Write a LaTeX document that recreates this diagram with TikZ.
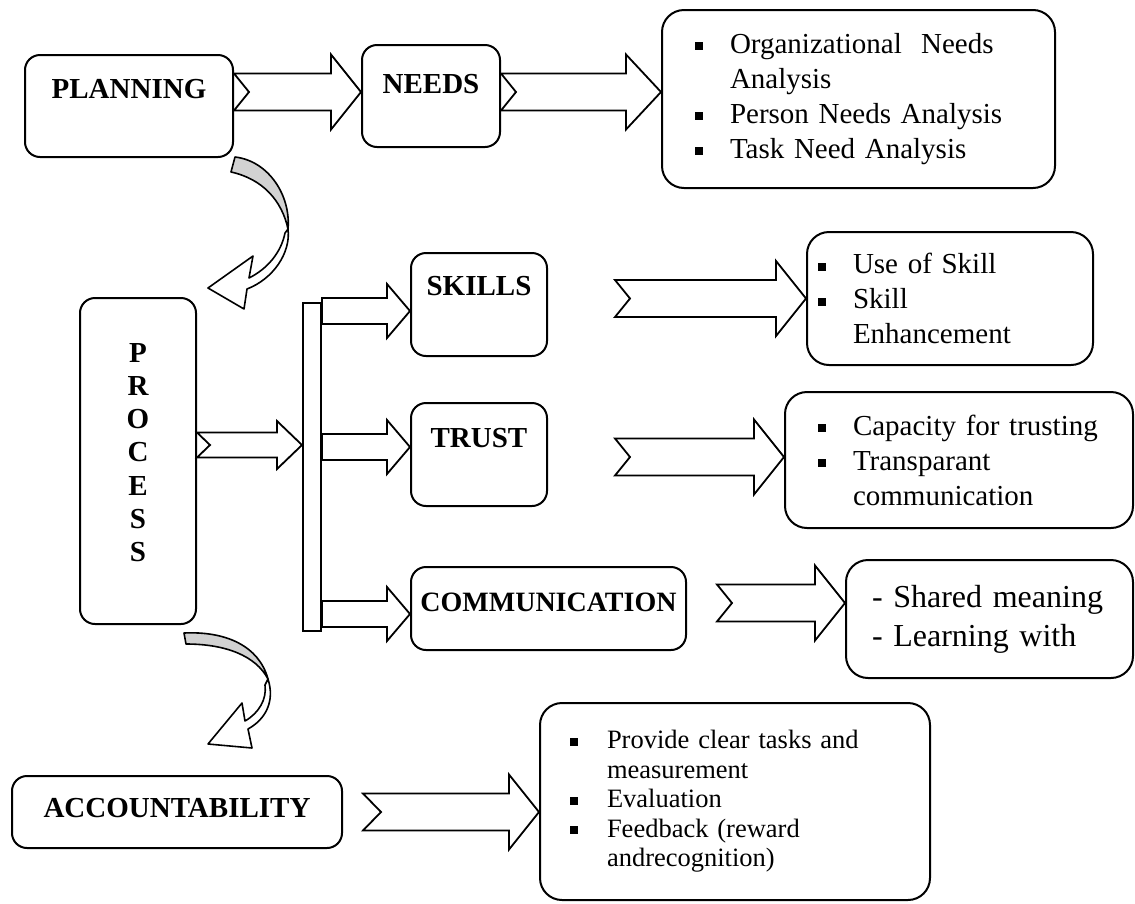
\documentclass[tikz,border=0pt]{standalone}
\usepackage{fontspec}
\setmainfont{Liberation Serif}
\usetikzlibrary{calc}
\tikzset{
  box/.style={draw, rounded corners=15pt, line width=2pt, fill=white,
              inner sep=0pt, align=center},
  title/.style={box, font=\fontsize{29}{35}\selectfont\bfseries},
  list/.style={box, rounded corners=22pt, align=left,
               font=\fontsize{29}{35}\selectfont},
  bar/.style={draw, line width=2pt, fill=white, inner sep=0pt},
  barrow/.style={draw, line width=1.8pt, fill=white, line join=miter},
  shaft w/.store in=\bashaft, head w/.store in=\bahead,
  head len/.store in=\bahlen, notch len/.store in=\banotch,
  big arrow/.style={shaft w=18.5pt, head w=37.5pt, head len=30pt, notch len=15pt},
  small arrow/.style={shaft w=13pt, head w=27pt, head len=23pt, notch len=0pt},
  curved/.style={draw, line width=1.6pt, line join=round},
}
% square bullet followed by the gap to the item text
\newcommand{\sqb}[1][35pt]{\makebox[#1][l]{\rule[3pt]{8pt}{8pt}}}
% notched block arrow, horizontal, from the x of #2 to the point #3
\newcommand{\blockarrow}[3][]{%
  \draw[barrow,#1] let \p1=(#2), \p2=(#3) in
    (\x1,\y2+\bashaft) -- (\x2-\bahlen,\y2+\bashaft) -- (\x2-\bahlen,\y2+\bahead)
    -- (\x2,\y2) -- (\x2-\bahlen,\y2-\bahead) -- (\x2-\bahlen,\y2-\bashaft)
    -- (\x1,\y2-\bashaft) -- (\x1+\banotch,\y2) -- cycle;
}

\begin{document}
\begin{tikzpicture}[x=1pt, y=-1pt]
  \useasboundingbox (0,0) rectangle (1135,903);

  % left column
  \node[title, minimum width=208pt, text height=43pt, text depth=59pt] (plan) at (129,106) {PLANNING};
  \node[title, minimum width=116pt, text height=64pt, text depth=262pt,
        font=\fontsize{29}{33.3}\selectfont\bfseries] (process) at (138,461)
        {\parbox[t]{40pt}{\centering P\\R\\O\\C\\E\\S\\S}};
  \node[title, minimum width=330pt, text height=41pt, text depth=31pt] (acc) at (177,812) {ACCOUNTABILITY};

  % middle column
  \node[title, minimum width=138pt, text height=48pt, text depth=54pt] (needs) at (431,96) {NEEDS};
  \node[title, minimum width=136pt, text height=42pt, text depth=61pt] (skills) at (479,304.5) {SKILLS};
  \node[title, minimum width=136pt, text height=44pt, text depth=59pt] (trust) at (479,454.5) {TRUST};
  \node[title, minimum width=275pt, text height=44pt, text depth=39pt,
        font=\fontsize{28}{34}\selectfont\bfseries] (comm) at (548.5,608.5) {COMMUNICATION};
  \node[bar, minimum width=18pt, minimum height=328pt] (bar) at (312,467) {};

  % right column
  \node[list, minimum width=393pt, minimum height=178pt, inner xsep=33pt, text width=327pt] (needlist) at (858.5,99)
    {\sqb Organizational\ \ Needs\\
     \hspace*{35pt}Analysis\\
     \sqb Person Needs Analysis\\
     \sqb Task Need Analysis};
  \node[list, minimum width=286pt, minimum height=133pt, inner xsep=11pt, text width=264pt] (skilllist) at (950,298.5)
    {\sqb Use of Skill\\
     \sqb Skill\\
     \hspace*{35pt}Enhancement};
  \node[list, minimum width=348pt, minimum height=136pt, inner xsep=33pt, text width=282pt] (trustlist) at (959,460)
    {\sqb Capacity for trusting\\
     \sqb Transparant\\
     \hspace*{35pt}communication};
  \node[list, minimum width=287pt, minimum height=118pt, inner xsep=26pt, text width=235pt,
        font=\fontsize{32}{39}\selectfont] (commlist) at (989.5,619)
    {- Shared meaning\\
     - Learning with};
  \node[list, minimum width=390pt, minimum height=197pt, inner xsep=30pt, text width=330pt,
        font=\fontsize{26.5}{29.5}\selectfont] (acclist) at (735,801.5)
    {\sqb[37pt]Provide clear tasks and\\
     \hspace*{37pt}measurement\\
     \sqb[37pt]Evaluation\\
     \sqb[37pt]Feedback (reward\\
     \hspace*{37pt}andrecognition)};

  % block arrows
  \blockarrow[big arrow]{plan.east}{[yshift=4pt]needs.west}
  \blockarrow[big arrow, head len=35pt]{needs.east}{[yshift=7pt]needlist.west}
  \blockarrow[small arrow, shaft w=12.5pt, head w=24pt, head len=25pt, notch len=13pt]{process.east}{[yshift=22pt]bar.west}
  \blockarrow[small arrow]{bar.east}{[yshift=-6.5pt]skills.west}
  \blockarrow[small arrow]{bar.east}{[yshift=7.5pt]trust.west}
  \blockarrow[small arrow]{bar.east}{[yshift=-5.5pt]comm.west}
  \blockarrow[big arrow]{[xshift=67pt]skills.east}{skilllist.west}
  \blockarrow[big arrow]{[xshift=67pt]trust.east}{[yshift=3pt]trustlist.west}
  \blockarrow[big arrow]{[xshift=30pt]comm.east}{[yshift=16pt]commlist.west}
  \blockarrow[big arrow, notch len=18pt]{[xshift=20pt]acc.east}{[yshift=-10.5pt]acclist.west}

  % curved arrows between the stages
  \begin{scope}[shift={(plan.south east)}]
    \path[curved, fill=gray!35] (1,-1) .. controls (35,3) and (57,38) .. (54,71)
      .. controls (48,43) and (29,21) .. (-3,14) -- cycle;
    \path[curved, fill=white] (54,71) .. controls (57,95) and (39,121) .. (13,131)
      -- (10,151) -- (-26,130) -- (19,98) -- (15,120)
      .. controls (33,111) and (47,95) .. (51,75) -- cycle;
  \end{scope}
  \begin{scope}[shift={(process.south east)}]
    \path[curved, fill=gray!35] (-13,8) .. controls (29,6) and (62,21) .. (71,54)
      .. controls (59,31) and (29,19) .. (-11,19) -- cycle;
    \path[curved, fill=white] (71,54) .. controls (78,76) and (69,94) .. (51,104)
      -- (55,123) -- (11,119) -- (45,78) -- (48,96)
      .. controls (62,88) and (70,74) .. (68,60) -- cycle;
  \end{scope}
\end{tikzpicture}
\end{document}
